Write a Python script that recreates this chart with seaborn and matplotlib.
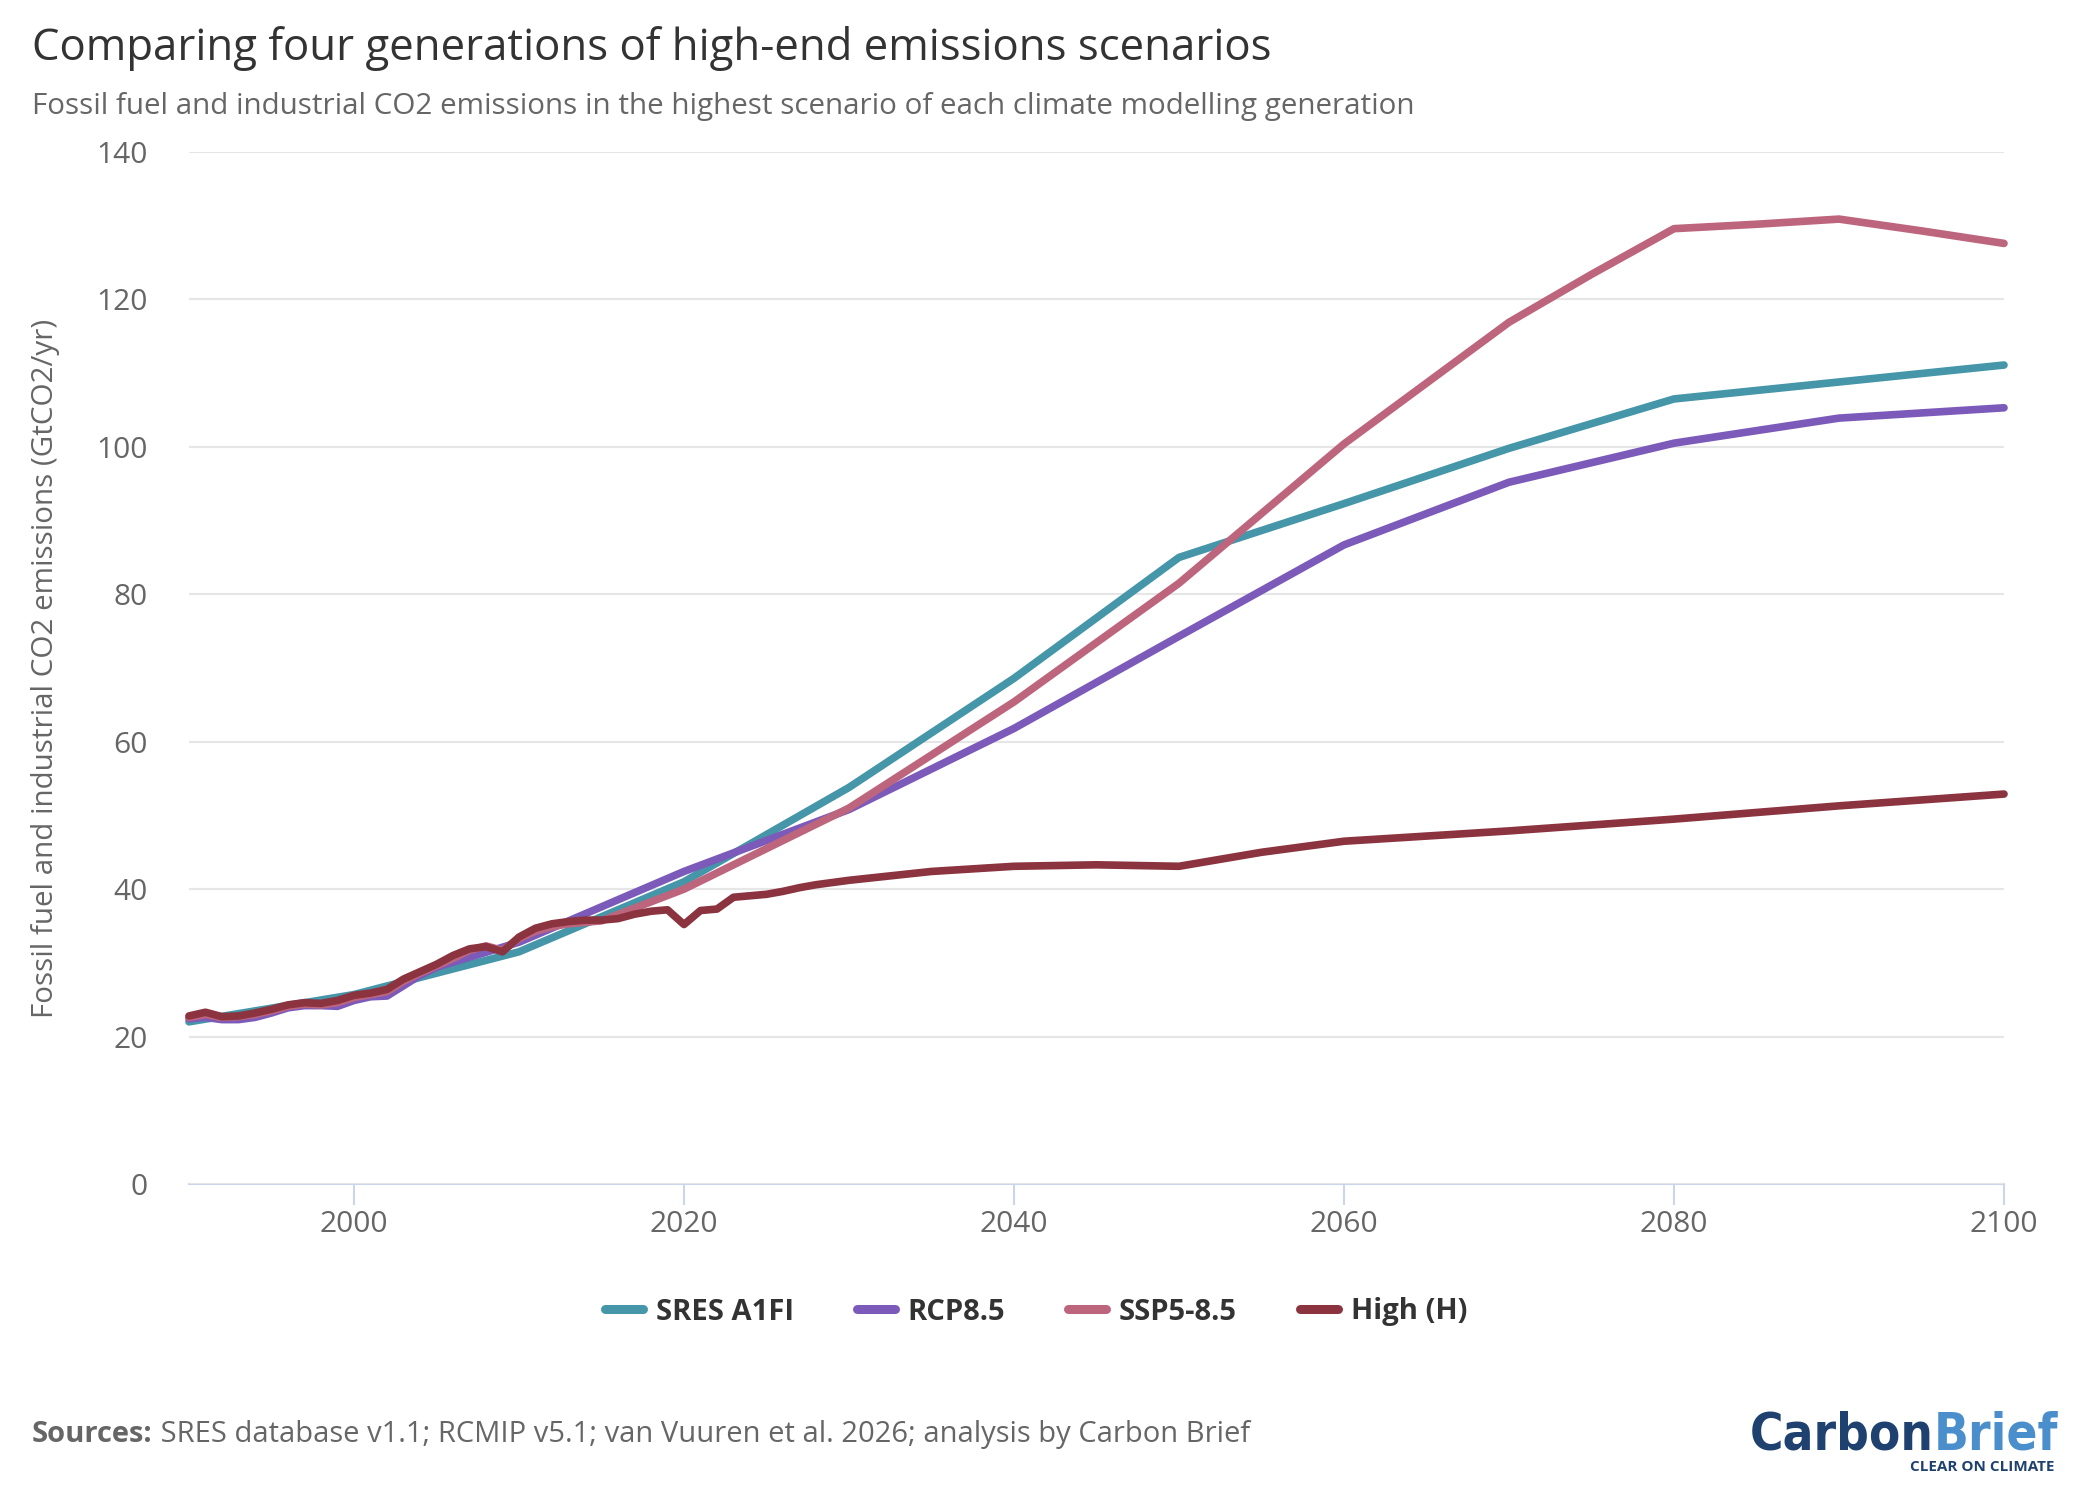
import pandas as pd
import seaborn as sns
import matplotlib.pyplot as plt
from matplotlib.lines import Line2D
from matplotlib import font_manager as fm

# --- data (GtCO2/yr) ---
sres_years = [1990, 2000, 2010, 2020, 2030, 2040, 2050, 2060, 2070, 2080, 2090, 2100]
sres_vals = [22.0, 25.7, 31.5, 41.0, 53.8, 68.6, 85.0, 92.3, 99.8, 106.5, 108.8, 111.1]

rcp_years = [1990, 1991, 1992, 1993, 1994, 1995, 1996, 1997, 1998, 1999, 2000, 2001,
             2002, 2003, 2004, 2005, 2010, 2020, 2030, 2040, 2050, 2060, 2070, 2080,
             2090, 2100]
rcp_vals = [22.4, 22.6, 22.3, 22.3, 22.6, 23.2, 23.9, 24.2, 24.2, 24.1, 24.9, 25.4,
            25.5, 26.9, 28.3, 29.4, 32.8, 42.4, 50.8, 61.8, 74.3, 86.7, 95.2, 100.5,
            103.9, 105.3]

ssp_years = [1990, 1991, 1992, 1993, 1994, 1995, 1996, 1997, 1998, 1999, 2000, 2001,
             2002, 2003, 2004, 2005, 2006, 2007, 2008, 2009, 2010, 2011, 2012, 2013,
             2014, 2015, 2020, 2030, 2040, 2050, 2060, 2070, 2075, 2080, 2085, 2090,
             2095, 2100]
ssp_vals = [22.6, 23.0, 22.6, 22.7, 23.0, 23.5, 24.1, 24.4, 24.3, 24.6, 25.3, 25.7,
            26.1, 27.5, 28.6, 29.6, 30.6, 31.7, 32.3, 31.7, 33.3, 34.3, 34.9, 35.3,
            35.5, 35.7, 40.0, 51.0, 65.4, 81.5, 100.4, 116.9, 123.4, 129.6, 130.2, 130.9,
            129.3, 127.6]

high_years = [1990, 1991, 1992, 1993, 1994, 1995, 1996, 1997, 1998, 1999, 2000, 2001,
              2002, 2003, 2004, 2005, 2006, 2007, 2008, 2009, 2010, 2011, 2012, 2013,
              2014, 2015, 2016, 2017, 2018, 2019, 2020, 2021, 2022, 2023, 2024, 2025,
              2026, 2027, 2028, 2029, 2030, 2035, 2040, 2045, 2050, 2055, 2060, 2065,
              2070, 2075, 2080, 2085, 2090, 2095, 2100]
high_vals = [22.8, 23.3, 22.7, 22.8, 23.2, 23.7, 24.3, 24.6, 24.5, 24.9, 25.6, 25.9,
             26.4, 27.8, 28.8, 29.8, 31.0, 31.9, 32.2, 31.5, 33.5, 34.7, 35.3, 35.6,
             35.8, 35.8, 36.0, 36.6, 37.0, 37.2, 35.2, 37.1, 37.3, 38.9, 39.1, 39.3,
             39.7, 40.2, 40.6, 40.9, 41.2, 42.4, 43.1, 43.3, 43.1, 45.0, 46.5, 47.2,
             47.9, 48.7, 49.5, 50.4, 51.3, 52.1, 52.9]

scenarios = ['SRES A1FI', 'RCP8.5', 'SSP5-8.5', 'High (H)']
colors = ['#4596a8', '#7c5aba', '#be657e', '#8b343f']

df = pd.concat([
    pd.DataFrame({'year': sres_years, 'value': sres_vals, 'scenario': scenarios[0]}),
    pd.DataFrame({'year': rcp_years, 'value': rcp_vals, 'scenario': scenarios[1]}),
    pd.DataFrame({'year': ssp_years, 'value': ssp_vals, 'scenario': scenarios[2]}),
    pd.DataFrame({'year': high_years, 'value': high_vals, 'scenario': scenarios[3]}),
], ignore_index=True)

sns.set_theme(style='white')
plt.rcParams['font.family'] = ['Open Sans', 'DejaVu Sans']

W, H = 2081, 1491
fig = plt.figure(figsize=(W / 100, H / 100), dpi=100)
ax = fig.add_axes([189 / W, 1 - 1184 / H, (2004 - 189) / W, (1184 - 152) / H])

sns.lineplot(data=df, x='year', y='value', hue='scenario', hue_order=scenarios,
             palette=dict(zip(scenarios, colors)), linewidth=5.5, estimator=None,
             sort=True, legend=False, ax=ax)
for ln in ax.lines:
    ln.set_clip_on(False)
    ln.set_solid_joinstyle('round')
    ln.set_solid_capstyle('round')

ax.set_xlim(1990, 2100)
ax.set_ylim(0, 140)
ax.set_xticks(range(2000, 2101, 20))
ax.set_yticks(range(0, 141, 20))
ax.grid(axis='y', color='#e6e6e6', linewidth=1.5)
ax.set_axisbelow(True)
for s in ['top', 'right', 'left']:
    ax.spines[s].set_visible(False)
ax.spines['bottom'].set_color('#ccd6eb')
ax.spines['bottom'].set_linewidth(1.5)
ax.spines['bottom'].set_zorder(0.5)
ax.tick_params(axis='x', bottom=True, length=15, width=1.5, color='#ccd6eb',
               labelsize=21.5, labelcolor='#666666', pad=4)
ax.tick_params(axis='y', left=False, length=0, labelsize=21.5, labelcolor='#666666', pad=30)
ax.set_xlabel('')
ax.set_ylabel('Fossil fuel and industrial CO2 emissions (GtCO2/yr)', fontsize=21.3,
              color='#666666')
ax.yaxis.set_label_coords(-0.071, 0.5)

# titles
fig.text(32 / W, 1 - 60 / H, 'Comparing four generations of high-end emissions scenarios',
         fontsize=31.5, color='#333333', va='baseline', ha='left')
fig.text(32 / W, 1 - 114 / H, 'Fossil fuel and industrial CO2 emissions in the highest '
         'scenario of each climate modelling generation',
         fontsize=21.3, color='#666666', va='baseline', ha='left')

# legend
handles = [Line2D([0], [0], color=c, lw=6.5, solid_capstyle='round') for c in colors]
leg = fig.legend(handles, scenarios, loc='center', bbox_to_anchor=(1036 / W, 1 - 1312 / H),
                 ncol=4, frameon=False, handlelength=1.3, handletextpad=0.45,
                 columnspacing=2.15, prop={'weight': 'bold', 'size': 21})
for t in leg.get_texts():
    t.set_color('#333333')

fig.canvas.draw()
renderer = fig.canvas.get_renderer()

# sources line
src_b = fig.text(32 / W, 1 - 1442 / H, 'Sources:', fontsize=21, weight='bold',
                 color='#666666', va='baseline', ha='left')
bb = src_b.get_window_extent(renderer)
fig.text(bb.x1 / W, 1 - 1442 / H,
         ' SRES database v1.1; RCMIP v5.1; van Vuuren et al. 2026; analysis by Carbon Brief',
         fontsize=21, color='#666666', va='baseline', ha='left')

# logo text: prefer a condensed bold face if one is installed
cond = [f for f in fm.fontManager.ttflist
        if ('condensed' in str(f.stretch) or 'Narrow' in f.name or 'Condensed' in f.fname)
        and str(f.weight) in ('700', 'bold')]
if cond:
    logo_prop = dict(fontproperties=fm.FontProperties(fname=cond[0].fname))
else:
    logo_prop = dict(family='Roboto', weight='bold')
size = 60
brief = fig.text(2058 / W, 1 - 1450 / H, 'Brief', color='#4a8fcc', ha='right',
                 va='baseline', **logo_prop)
carbon = fig.text(0, 1 - 1450 / H, 'Carbon', color='#1f4170', ha='right',
                  va='baseline', **logo_prop)
brief.set_fontsize(size)
carbon.set_fontsize(size)
fig.canvas.draw()
wb = brief.get_window_extent(renderer).width
wc = carbon.get_window_extent(renderer).width
size = size * min(1.0, 308 / (wb + wc))
brief.set_fontsize(size)
carbon.set_fontsize(size)
fig.canvas.draw()
bb2 = brief.get_window_extent(renderer)
carbon.set_x(bb2.x0 / W)
fig.text(2054 / W, 1 - 1471 / H, 'CLEAR ON CLIMATE', fontsize=11, weight='bold',
         color='#1f4170', ha='right', va='baseline')

fig.savefig('out.png', dpi=100, facecolor='white')
